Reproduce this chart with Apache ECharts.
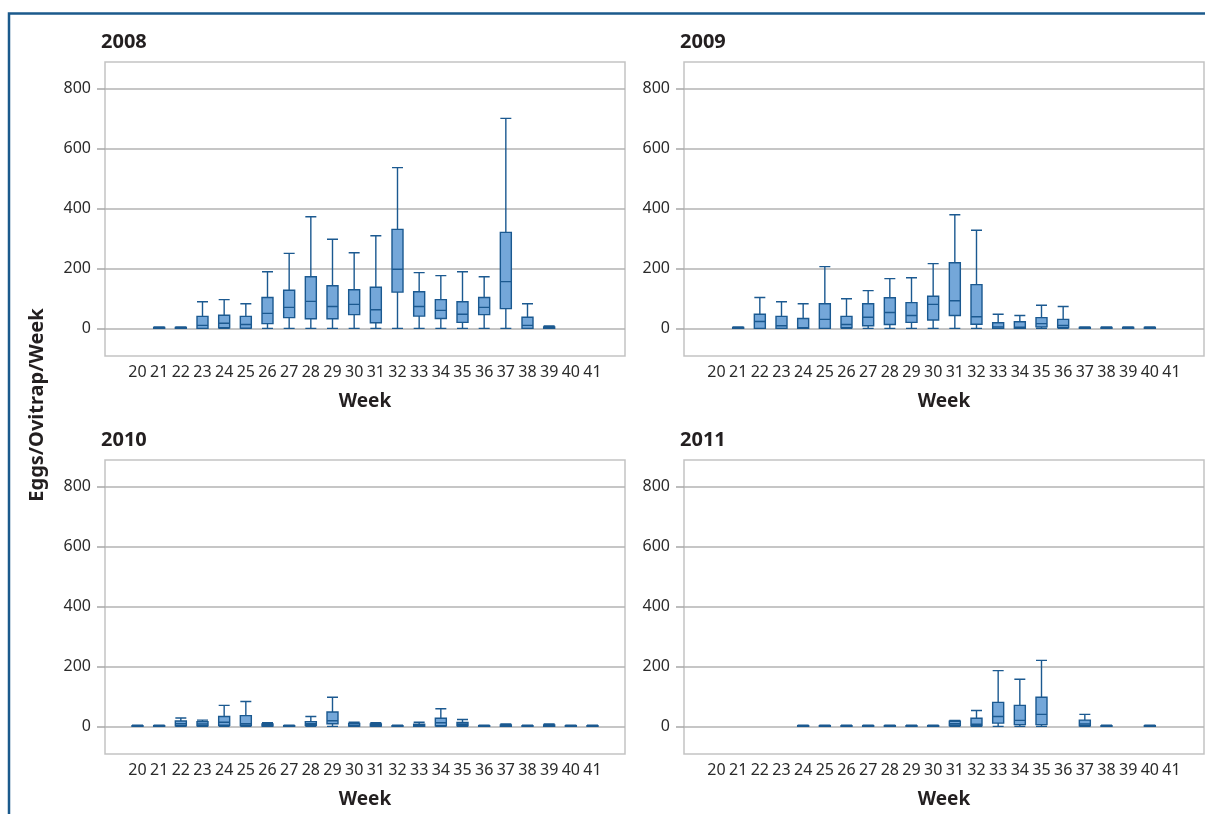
<!DOCTYPE html>
<html>
<head>
<meta charset="utf-8">
<title>Eggs/Ovitrap/Week</title>
<script src="https://cdn.jsdelivr.net/npm/echarts@6/dist/echarts.min.js"></script>
<style>
html, body { margin: 0; padding: 0; background: #fff; }
#board { width: 1205px; height: 814px; }
</style>
</head>
<body>
<div id="board"></div>
<script>
// week labels on the x axes
const weeks = ['20', '21', '22', '23', '24', '25', '26', '27', '28', '29', '30',
  '31', '32', '33', '34', '35', '36', '37', '38', '39', '40', '41'];
const yTicks = [0, 200, 400, 600, 800];

// one row per week 20..41 : [min, Q1, median, Q3, max], null = no samples
const boxes2008 = [
  null, [0, 0, 0, 3, 5], [0, 0, 0, 3, 5], [0, 0, 10, 40, 89], [0, 2, 17, 44, 96],
  [0, 1, 13, 40, 82], [0, 16, 50, 103, 189], [0, 36, 70, 127, 250], [0, 32, 90, 172, 372],
  [0, 32, 73, 142, 297], [0, 46, 80, 129, 252], [0, 19, 62, 137, 309], [0, 121, 197, 330, 536],
  [0, 41, 73, 122, 186], [0, 33, 60, 96, 176], [0, 20, 47, 89, 189], [0, 46, 70, 103, 172],
  [0, 66, 156, 320, 700], [0, 0, 10, 37, 82], [0, 0, 2, 5, 8], null, null
];
const boxes2009 = [
  null, [0, 0, 0, 3, 5], [0, 0, 23, 47, 103], [0, 0, 9, 40, 89], [0, 0, 2, 33, 82],
  [0, 0, 30, 82, 206], [0, 2, 13, 40, 99], [0, 9, 37, 82, 126], [0, 13, 53, 102, 166],
  [0, 20, 43, 86, 169], [0, 28, 80, 107, 216], [0, 43, 92, 219, 379], [0, 14, 39, 146, 327],
  [0, 0, 5, 19, 47], [0, 0, 4, 22, 43], [0, 5, 16, 36, 77], [0, 3, 10, 30, 73],
  [0, 0, 0, 3, 5], [0, 0, 0, 3, 5], [0, 0, 0, 3, 5], [0, 0, 0, 3, 5], null
];
const boxes2010 = [
  [0, 0, 0, 2, 4], [0, 0, 0, 2, 4], [0, 2, 9, 18, 28], [0, 2, 8, 16, 21], [0, 4, 14, 33, 70],
  [0, 3, 9, 36, 83], [0, 1, 3, 8, 12], [0, 0, 0, 2, 4], [0, 4, 9, 16, 33], [0, 9, 19, 48, 97],
  [0, 1, 4, 10, 14], [0, 1, 4, 8, 12], [0, 0, 0, 2, 4], [0, 0, 3, 7, 14], [0, 2, 12, 27, 59],
  [0, 2, 7, 13, 23], [0, 0, 0, 2, 4], [0, 0, 2, 5, 8], [0, 0, 0, 2, 4], [0, 0, 2, 5, 8],
  [0, 0, 0, 2, 4], [0, 0, 0, 2, 4]
];
const boxes2011 = [
  null, null, null, null, [0, 0, 0, 2, 4], [0, 0, 0, 2, 4], [0, 0, 0, 2, 4], [0, 0, 0, 2, 4],
  [0, 0, 0, 2, 4], [0, 0, 0, 2, 4], [0, 0, 0, 2, 4], [0, 3, 9, 17, 20], [0, 2, 7, 27, 53],
  [0, 11, 33, 80, 186], [0, 6, 20, 70, 157], [0, 6, 40, 97, 220], null, [0, 2, 8, 21, 40],
  [0, 0, 0, 2, 4], null, [0, 0, 0, 2, 4], null
];

const years = ['2008', '2009', '2010', '2011'];
const allBoxes = [boxes2008, boxes2009, boxes2010, boxes2011];

const panels = [
  {left: 105, top: 62},
  {left: 684, top: 62},
  {left: 105, top: 460},
  {left: 684, top: 460}
];

const font = '"Noto Sans", "Open Sans", sans-serif';

// one empty slot each side, like the original axis
function cats() {
  return [''].concat(weeks, ['']);
}
function rows(list) {
  return [null].concat(list, [null]).map(r => r ? r : ['-', '-', '-', '-', '-']);
}

let myChart = echarts.init(document.getElementById('board'));

let grid = [], xAxis = [], yAxis = [], series = [], graphic = [];
panels.forEach((p, i) => {
  grid.push({left: p.left, top: p.top, width: 520, height: 294, show: true,
    borderColor: '#c3c3c3', borderWidth: 1.5});
  xAxis.push({
    type: 'category', gridIndex: i, data: cats(),
    axisLine: {show: false}, axisTick: {show: false},
    axisLabel: {interval: 0, margin: 8, fontSize: 16, color: '#2b2b2b', fontFamily: font},
    name: 'Week', nameLocation: 'middle', nameGap: 36,
    nameTextStyle: {fontSize: 19, fontWeight: 'bold', color: '#231f20', fontFamily: font}
  });
  yAxis.push({
    type: 'value', gridIndex: i, min: -92, max: 888,
    axisLine: {show: false},
    axisTick: {show: true, length: 8, customValues: yTicks, lineStyle: {color: '#a8a8a8', width: 1.5}},
    axisLabel: {margin: 14, fontSize: 16, color: '#2b2b2b', fontFamily: font, customValues: yTicks},
    splitLine: {show: true, lineStyle: {color: '#b3b3b3', width: 1.5}}
  });
  series.push({
    type: 'boxplot', xAxisIndex: i, yAxisIndex: i,
    boxWidth: [11, 11],
    itemStyle: {color: '#74a7d9', borderColor: '#1b5990', borderWidth: 1.4},
    data: rows(allBoxes[i])
  });
  graphic.push({
    type: 'text', x: p.left - 4, y: p.top - 20,
    style: {text: years[i], font: 'bold 20px ' + font, fill: '#231f20', verticalAlign: 'middle'}
  });
});

// frame line (top and left) and the shared y title
graphic.push({
  type: 'polyline',
  shape: {points: [[9, 814], [9, 13.5], [1205, 13.5]]},
  style: {stroke: '#1b5a8c', lineWidth: 2.5, fill: null}
});
graphic.push({
  type: 'text', x: 37, y: 405, rotation: Math.PI / 2,
  style: {text: 'Eggs/Ovitrap/Week', font: 'bold 20px ' + font, fill: '#231f20',
    align: 'center', verticalAlign: 'middle'}
});

myChart.setOption({
  animation: false,
  grid: grid,
  xAxis: xAxis,
  yAxis: yAxis,
  series: series,
  graphic: graphic
});
</script>
</body>
</html>
